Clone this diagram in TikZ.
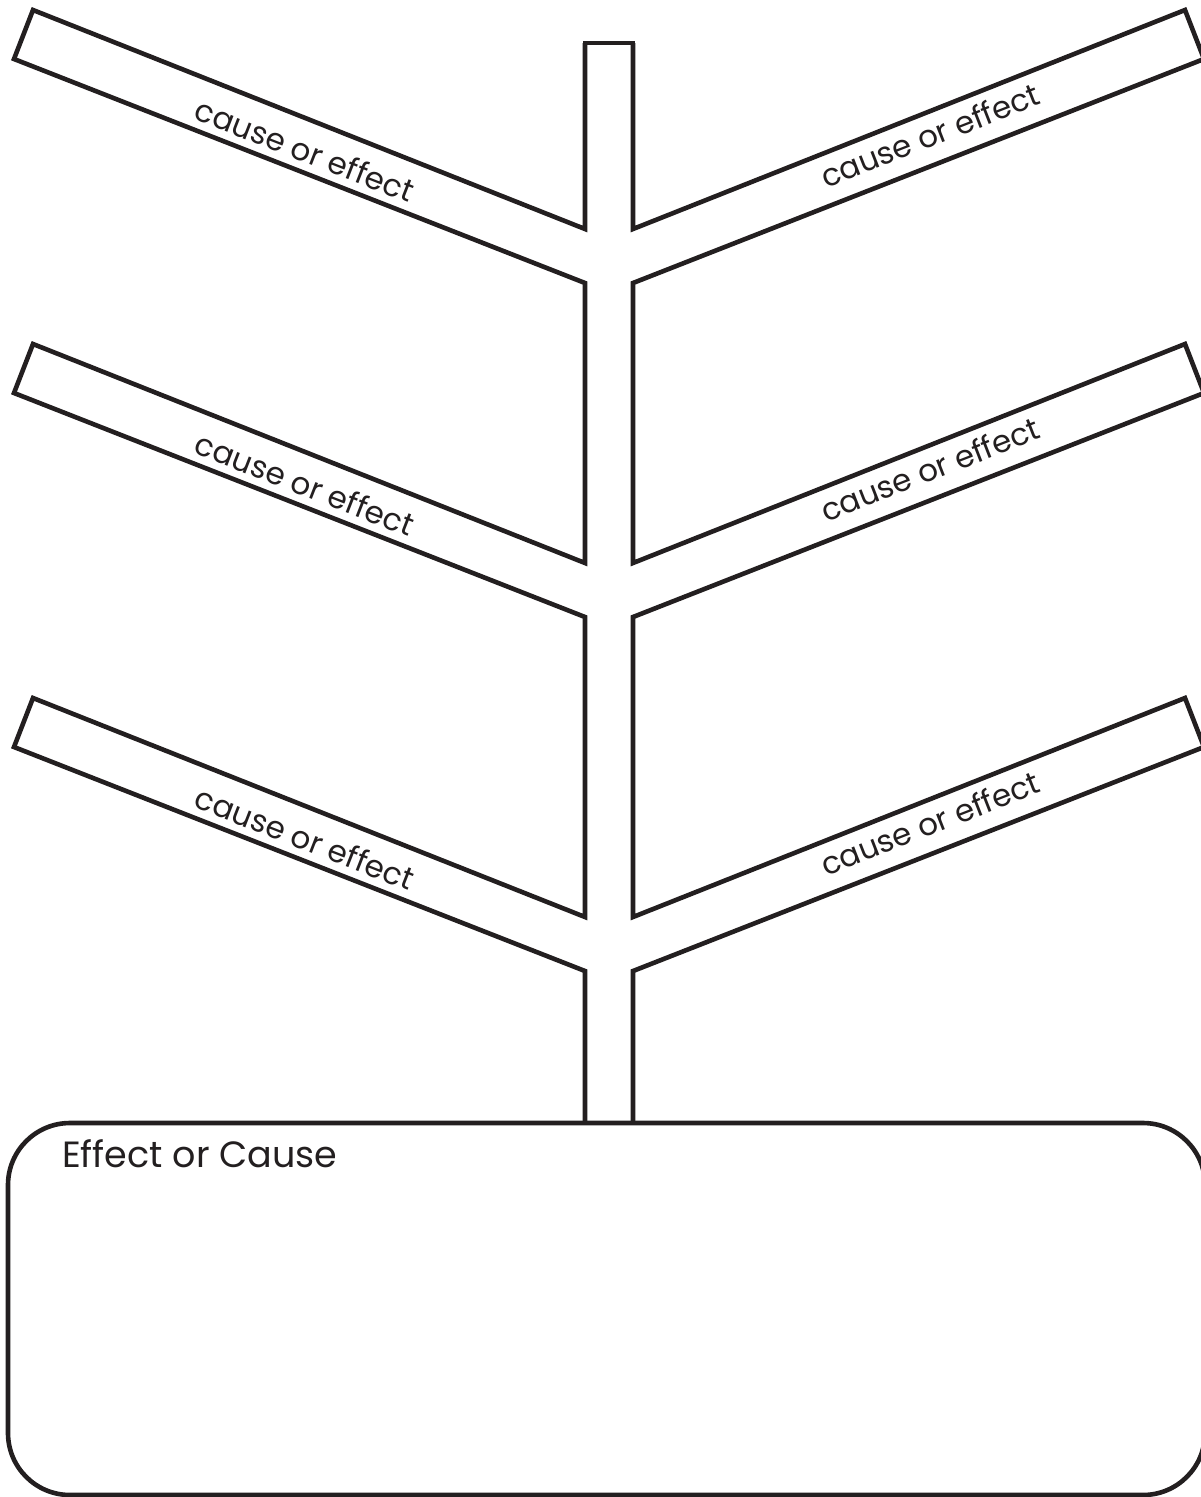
\documentclass[tikz,border=0pt]{standalone}
\usepackage{fontspec}
\setmainfont{Poppins}
\definecolor{ink}{HTML}{231F20}
\begin{document}
\begin{tikzpicture}[x=1pt,y=-1pt,
  outline/.style={draw=ink,line width=4.6pt,line join=miter},
  lbl/.style={font=\fontsize{31}{34}\selectfont,text=ink,inner sep=0pt},
  ttl/.style={font=\fontsize{36.5}{40}\selectfont,text=ink,inner sep=0pt,anchor=base west}]
\useasboundingbox (0,0) rectangle (1200,1497);
% left outline of trunk and branches
\draw[outline] (585,43) -- (585,229) -- (33,10) -- (14,59) -- (585,283)
  -- (585,563) -- (33,344) -- (14,393) -- (585,617)
  -- (585,917) -- (33,698) -- (14,747) -- (585,971) -- (585,1123);
% right outline
\draw[outline] (633,43) -- (633,229) -- (1185,10) -- (1204,59) -- (633,283)
  -- (633,563) -- (1185,344) -- (1204,393) -- (633,617)
  -- (633,917) -- (1185,698) -- (1204,747) -- (633,971) -- (633,1123);
% top cap
\draw[outline,line cap=rect] (585,43) -- (633,43);
% bottom box
\draw[outline,rounded corners=62pt] (8,1123) rectangle (1205,1495);
% labels
\node[lbl,rotate=-21.3] (l1) at (305,150) {cause or effect};
\node[lbl,rotate=-21.3] (l2) at (305,484) {cause or effect};
\node[lbl,rotate=-21.3] (l3) at (305,838) {cause or effect};
\node[lbl,rotate=21.3] (r1) at (930,135) {cause or effect};
\node[lbl,rotate=21.3] (r2) at (930,469) {cause or effect};
\node[lbl,rotate=21.3] (r3) at (930,823) {cause or effect};
\node[ttl] (t) at (62,1167) {Effect or Cause};
\end{tikzpicture}
\end{document}
